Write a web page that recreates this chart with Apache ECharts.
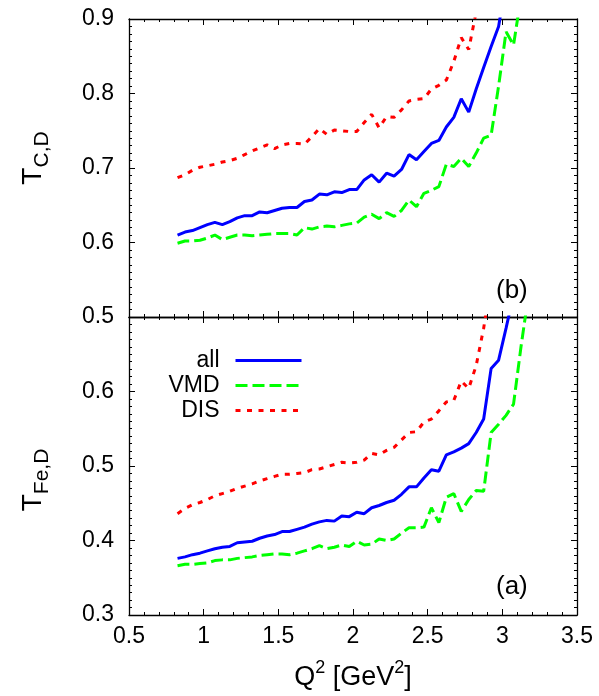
<!DOCTYPE html>
<html>
<head>
<meta charset="utf-8">
<script src="https://cdn.jsdelivr.net/npm/echarts@6/dist/echarts.min.js"></script>
<style>
html,body{margin:0;padding:0;background:#fff;}
#chart{width:599px;height:696px;}
</style>
</head>
<body>
<div id="chart"></div>
<script>
// Q^2 sample points [GeV^2]
const q2 = [0.825,0.875,0.925,0.975,1.025,1.075,1.125,1.175,1.225,1.275,
            1.325,1.375,1.425,1.475,1.525,1.575,1.625,1.675,1.725,1.775,
            1.825,1.875,1.925,1.975,2.025,2.075,2.125,2.175,2.225,2.275,
            2.325,2.375,2.425,2.475,2.525,2.575,2.625,2.675,2.725,2.775,
            2.825,2.875,2.925,2.975,3.025,3.075,3.125,3.175];

// Panel (b): T_{C,D}
const cAll = [0.610,0.614,0.616,0.620,0.624,0.627,0.624,0.628,0.633,0.636,
              0.636,0.641,0.640,0.643,0.646,0.647,0.647,0.655,0.657,0.665,
              0.664,0.668,0.667,0.671,0.671,0.684,0.691,0.681,0.693,0.689,
              0.698,0.718,0.711,0.722,0.733,0.737,0.755,0.768,0.793,0.775,
              0.806,0.835,0.863,0.890,0.950];
const cVMD = [0.599,0.602,0.602,0.603,0.606,0.610,0.604,0.607,0.610,0.610,
              0.609,0.610,0.611,0.612,0.612,0.612,0.610,0.620,0.618,0.621,
              0.622,0.621,0.623,0.625,0.626,0.634,0.638,0.632,0.640,0.635,
              0.643,0.657,0.648,0.666,0.670,0.675,0.705,0.702,0.713,0.702,
              0.720,0.740,0.744,0.810,0.883,0.865,0.930];
const cDIS = [0.687,0.691,0.697,0.701,0.703,0.705,0.708,0.710,0.713,0.718,
              0.723,0.727,0.731,0.726,0.731,0.733,0.733,0.732,0.742,0.753,
              0.745,0.751,0.750,0.749,0.749,0.761,0.772,0.754,0.769,0.768,
              0.778,0.790,0.792,0.793,0.806,0.811,0.818,0.843,0.875,0.859,
              0.910,0.960];

// Panel (a): T_{Fe,D}
const feAll = [0.376,0.378,0.381,0.383,0.386,0.389,0.391,0.392,0.397,0.398,
               0.399,0.403,0.406,0.408,0.412,0.412,0.415,0.418,0.422,0.425,
               0.427,0.426,0.433,0.432,0.438,0.436,0.444,0.447,0.451,0.454,
               0.462,0.472,0.472,0.484,0.495,0.493,0.515,0.519,0.524,0.530,
               0.545,0.563,0.631,0.642,0.685,0.730];
const feVMD = [0.366,0.368,0.368,0.369,0.370,0.373,0.374,0.374,0.376,0.377,
               0.378,0.380,0.381,0.382,0.382,0.381,0.383,0.386,0.389,0.393,
               0.389,0.391,0.394,0.392,0.399,0.394,0.395,0.402,0.400,0.402,
               0.410,0.417,0.417,0.418,0.444,0.424,0.458,0.463,0.439,0.455,
               0.467,0.466,0.545,0.556,0.568,0.583,0.660,0.730];
const feDIS = [0.436,0.443,0.448,0.451,0.455,0.460,0.463,0.466,0.470,0.473,
               0.476,0.480,0.483,0.486,0.489,0.489,0.490,0.491,0.495,0.496,
               0.499,0.502,0.505,0.504,0.505,0.508,0.517,0.515,0.521,0.525,
               0.535,0.545,0.546,0.559,0.563,0.574,0.586,0.588,0.614,0.604,
               0.635,0.685,0.750];

const seriesNames = ['all','VMD','DIS'];
const xTickLabels = ['0.5','1','1.5','2','2.5','3','3.5'];

const FONT = 'Liberation Sans, Arial, Helvetica, sans-serif';
const BLUE = '#0000ff', GREEN = '#00ff00', RED = '#ff0000';

function zip(vals){ return vals.map((v,i)=>[q2[i], v]); }

const axisLine = {show:true, onZero:false, lineStyle:{color:'#000', width:1.3}};
function xAxisDef(gridIndex, position, labels){
  return {
    type:'value', gridIndex, position, min:0.5, max:3.5, interval:0.5,
    axisLine, splitLine:{show:false},
    axisTick:{show:true, inside:true, length:6, lineStyle:{color:'#000', width:1}},
    minorTick:{show:true, splitNumber:5, length:3, lineStyle:{color:'#000', width:1}},
    axisLabel:{show:labels, margin:10, fontSize:23, color:'#000', fontFamily:FONT,
      formatter:(v)=>{ const i=Math.round((v-0.5)/0.5); return xTickLabels[i] || ''; }},
  };
}
function yAxisDef(gridIndex, position, min, max, labels, hideTop){
  return {
    type:'value', gridIndex, position, min, max, interval:0.1,
    axisLine, splitLine:{show:false},
    axisTick:{show:true, inside:true, length:6, lineStyle:{color:'#000', width:1}},
    minorTick:{show:true, splitNumber:10, length:3, lineStyle:{color:'#000', width:1}},
    axisLabel:{show:labels, margin:15, fontSize:23, color:'#000', fontFamily:FONT,
      formatter:(v)=> (hideTop && v > max - 0.001) ? '' : v.toFixed(1)},
  };
}

const lineStyles = {
  all:{color:BLUE, width:3, type:'solid'},
  VMD:{color:GREEN, width:3, type:[12,5]},
  DIS:{color:RED, width:3, type:[5,6.5]},
};
function mk(name, vals, xi, yi){
  return {
    name, type:'line', data:zip(vals), xAxisIndex:xi, yAxisIndex:yi,
    showSymbol:false, symbol:'none', clip:true, animation:false,
    lineStyle:lineStyles[name], itemStyle:{color:lineStyles[name].color},
    z: name==='all'?3:2,
  };
}

function legendDef(name, top){
  return {
    data:[name], right:291, top, orient:'horizontal', align:'right',
    itemWidth:66, itemHeight:14, selectedMode:false,
    itemStyle:{opacity:0},
    lineStyle:{width:3},
    textStyle:{fontSize:23, color:'#000', fontFamily:FONT, padding:[0,11,0,0]},
  };
}

const chart = echarts.init(document.getElementById('chart'), null, {renderer:'canvas'});
chart.setOption({
  backgroundColor:'#fff',
  animation:false,
  grid:[
    {left:129, right:22, top:19, height:298},
    {left:129, right:22, top:317, height:298},
  ],
  xAxis:[
    xAxisDef(0,'bottom',false),
    xAxisDef(0,'top',false),
    Object.assign(xAxisDef(1,'bottom',true), {
      name:'{n|Q}{sup|2}{n| [GeV}{sup|2}{n|]}', nameLocation:'middle', nameGap:44,
      nameTextStyle:{fontFamily:FONT, color:'#000', rich:{
        n:{fontSize:27, fontFamily:FONT, color:'#000', lineHeight:38, verticalAlign:'middle'},
        sup:{fontSize:18, fontFamily:FONT, color:'#000', lineHeight:38, verticalAlign:'top'}
      }}
    }),
    xAxisDef(1,'top',false),
  ],
  yAxis:[
    yAxisDef(0,'left',0.5,0.9,true,false),
    yAxisDef(0,'right',0.5,0.9,false,false),
    yAxisDef(1,'left',0.3,0.7,true,true),
    yAxisDef(1,'right',0.3,0.7,false,false),
  ],
  legend:[
    legendDef('all',344),
    legendDef('VMD',369),
    legendDef('DIS',394),
  ],
  graphic:[
    {type:'text', x:33, y:158, rotation:Math.PI/2,
      style:{text:'{t|T}{s|C,D}', align:'center', verticalAlign:'middle',
        rich:{t:{fontSize:28, fontFamily:FONT, fill:'#000', lineHeight:40, verticalAlign:'middle'},
              s:{fontSize:21, fontFamily:FONT, fill:'#000', lineHeight:40, verticalAlign:'bottom'}}}},
    {type:'text', x:33, y:480, rotation:Math.PI/2,
      style:{text:'{t|T}{s|Fe,D}', align:'center', verticalAlign:'middle',
        rich:{t:{fontSize:28, fontFamily:FONT, fill:'#000', lineHeight:40, verticalAlign:'middle'},
              s:{fontSize:21, fontFamily:FONT, fill:'#000', lineHeight:40, verticalAlign:'bottom'}}}},
    {type:'text', x:496, y:291, style:{text:'(b)', fontSize:26, fontFamily:FONT, fill:'#000', verticalAlign:'middle'}},
    {type:'text', x:496, y:587, style:{text:'(a)', fontSize:26, fontFamily:FONT, fill:'#000', verticalAlign:'middle'}},
  ],
  series:[
    mk('DIS', cDIS, 0, 0), mk('VMD', cVMD, 0, 0), mk('all', cAll, 0, 0),
    mk('DIS', feDIS, 2, 2), mk('VMD', feVMD, 2, 2), mk('all', feAll, 2, 2),
  ],
});
</script>
</body>
</html>
